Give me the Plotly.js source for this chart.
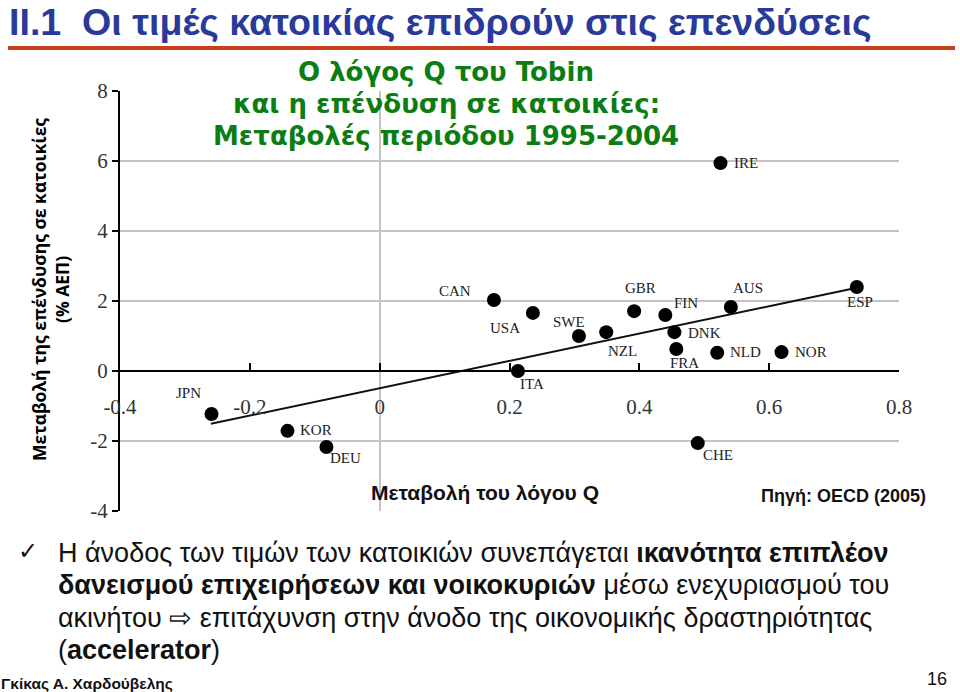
<!DOCTYPE html>
<html>
<head>
<meta charset="utf-8">
<script src="https://cdn.plot.ly/plotly-3.0.1.min.js"></script>
<style>
  html, body { margin: 0; padding: 0; background: #fff; }
  #chart { width: 960px; height: 692px; }
</style>
</head>
<body>
<div id="chart"></div>
<script>
// ---------- data ----------
const countries = ['JPN','KOR','DEU','ITA','CAN','USA','SWE','NZL','GBR','FIN','DNK','FRA','NLD','NOR','AUS','ESP','IRE','CHE'];
const qChange   = [-0.259,-0.142,-0.082,0.213,0.176,0.236,0.307,0.349,0.392,0.440,0.454,0.457,0.520,0.619,0.541,0.735,0.525,0.490];
const invChange = [-1.23,-1.71,-2.17,0.00,2.03,1.66,1.00,1.11,1.71,1.60,1.11,0.63,0.52,0.54,1.83,2.40,5.94,-2.06];
const trendX = [-0.26, 0.735];
const trendY = [-1.51, 2.38];
const xTickVals = [-0.4,-0.2,0,0.2,0.4,0.6,0.8];
const xTickText = ['-0.4','-0.2','0','0.2','0.4','0.6','0.8'];
const yTickVals = [-4,-2,0,2,4,6,8];
const yTickText = ['-4','-2','0','2','4','6','8'];
const chartTitleLines = ['Ο λόγος Q του Tobin', 'και η επένδυση σε κατοικίες:', 'Μεταβολές περιόδου 1995-2004'];
const bulletLines = [
  'Η άνοδος των τιμών των κατοικιών συνεπάγεται <b>ικανότητα επιπλέον</b>',
  '<b>δανεισμού επιχειρήσεων και νοικοκυριών</b> μέσω ενεχυριασμού του',
  'ακινήτου ⇨ επιτάχυνση στην άνοδο της οικονομικής δραστηριότητας',
  '(<b>accelerator</b>)'
];

// ---------- label placement (style) ----------
const labelOffset = {
  JPN:[-23,21], KOR:[29,1], DEU:[19,-11], ITA:[14,-13], CAN:[-39,9], USA:[-28,-15],
  SWE:[-10,14], NZL:[16,-19], GBR:[6,23], FIN:[21,12], DNK:[30,-1], FRA:[8,-14],
  NLD:[28,1], NOR:[29,0], AUS:[17,19], ESP:[3,-15], IRE:[26,0], CHE:[20,-12]
};

// ---------- geometry ----------
const W = 960, H = 692;
const M = {l:120, r:61, t:91, b:181};
const PW = W - M.l - M.r, PH = H - M.t - M.b;
const px = x => (x - M.l) / PW;
const py = y => (H - M.b - y) / PH;

const serif = 'Liberation Serif, Times New Roman, serif';
const sans = 'Liberation Sans, Arial, sans-serif';

const traces = [
  { x: trendX, y: trendY, mode: 'lines', line: {color:'#111', width:2}, hoverinfo:'skip' },
  { x: qChange, y: invChange, mode: 'markers', text: countries,
    marker: {color:'#000', size:14} }
];

const annotations = countries.map((c, i) => ({
  x: qChange[i], y: invChange[i], xref:'x', yref:'y', text: c, showarrow:false,
  xshift: labelOffset[c][0], yshift: labelOffset[c][1],
  font: {family: serif, size: 15, color:'#222'}
}));

const paperText = (x, y, text, font, extra) => Object.assign({
  xref:'paper', yref:'paper', x: px(x), y: py(y), text, showarrow:false, font
}, extra || {});

chartTitleLines.forEach((t, i) => annotations.push(
  paperText(446, 72 + 32 * i, '<b>' + t + '</b>',
    {family:'DejaVu Sans, Verdana, sans-serif', size: 26, color:'#0b7d12'}, {xanchor:'center', yanchor:'middle'})
));

bulletLines.forEach((t, i) => annotations.push(
  paperText(56, 553 + 32.3 * i, t,
    {family: sans, size: 27, color:'#111'}, {xanchor:'left', yanchor:'middle', align:'left'})
));

annotations.push(
  paperText(8, 22, '<b>II.1  Οι τιμές κατοικίας επιδρούν στις επενδύσεις</b>',
    {family: sans, size: 37.6, color:'#2a3a9a'}, {xanchor:'left', yanchor:'middle', borderpad: 0}),
  paperText(50, 290, '<b>Μεταβολή της επένδυσης σε κατοικίες<br>(% ΑΕΠ)</b>',
    {family:'Open Sans, sans-serif', size: 17.5, color:'#000'}, {xanchor:'center', yanchor:'middle', textangle:-90}),
  paperText(485, 492, '<b>Μεταβολή του λόγου Q</b>',
    {family: sans, size: 21, color:'#111'}, {xanchor:'center', yanchor:'middle'}),
  paperText(843, 496, '<b>Πηγή: OECD (2005)</b>',
    {family: sans, size: 18, color:'#111'}, {xanchor:'center', yanchor:'middle'}),
  paperText(28, 551, '<b>✓</b>', {family:'DejaVu Sans, sans-serif', size: 24, color:'#111'}, {xanchor:'center', yanchor:'middle'}),
  paperText(-1, 683, '<b>Γκίκας Α. Χαρδούβελης</b>',
    {family: sans, size: 15.5, color:'#111'}, {xanchor:'left', yanchor:'middle'}),
  paperText(937, 679, '16', {family: sans, size: 18, color:'#111'}, {xanchor:'center', yanchor:'middle'})
);

const layout = {
  width: W, height: H, margin: M, showlegend: false,
  paper_bgcolor:'#fff', plot_bgcolor:'#fff',
  xaxis: {
    range: [-0.4, 0.8], tickvals: xTickVals, ticktext: xTickText,
    anchor: 'free', position: 1/3,
    showgrid: false, zeroline: true, zerolinecolor:'#c4c4c4', zerolinewidth: 2,
    showline: true, linecolor:'#000', linewidth: 2,
    ticks: 'inside', ticklen: 7, tickwidth: 2, tickcolor:'#000',
    ticklabelstandoff: 17,
    tickfont: {family: serif, size: 21, color:'#333'}
  },
  yaxis: {
    range: [-4, 8], tickvals: yTickVals, ticktext: yTickText,
    showgrid: true, gridcolor:'#c4c4c4', gridwidth: 1.5,
    zeroline: false,
    showline: true, linecolor:'#000', linewidth: 2,
    ticks: 'outside', ticklen: 6, tickwidth: 2, tickcolor:'#000',
    tickfont: {family: serif, size: 21, color:'#333'}
  },
  shapes: [
    { type:'line', xref:'paper', yref:'paper', x0: px(8), x1: px(955), y0: py(48), y1: py(48),
      line: {color:'#c8401c', width: 4} }
  ],
  annotations
};

Plotly.newPlot('chart', traces, layout, {displayModeBar:false, staticPlot:true});
</script>
</body>
</html>
